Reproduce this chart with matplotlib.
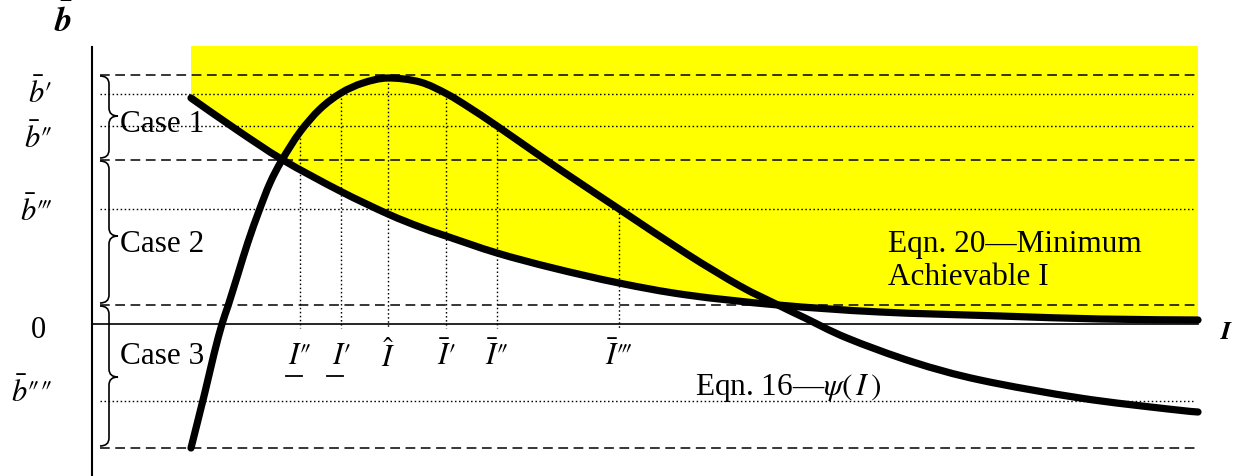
import matplotlib
matplotlib.use("Agg")
import matplotlib.pyplot as plt
from matplotlib.path import Path
from matplotlib.patches import PathPatch

plt.rcParams["font.family"] = ["Liberation Serif", "DejaVu Serif"]
plt.rcParams["mathtext.fontset"] = "stix"
plt.rcParams["lines.scale_dashes"] = False

# ---- data -------------------------------------------------------------
# Eqn. 16: psi(I), the hump-shaped curve
psi_I = [0.99, 1.13, 1.22, 1.30, 1.36, 1.46, 1.56, 1.67, 1.78, 1.90, 2.08,
         2.28, 2.49, 2.71, 2.96, 3.28, 3.55, 3.78, 4.05, 4.51, 4.88, 5.27,
         5.95, 6.48, 6.86, 7.13, 7.55, 8.21, 8.88, 9.88, 10.76, 11.06]
psi_b = [-1.24, -0.68, -0.30, 0.00, 0.18, 0.50, 0.82, 1.13, 1.41, 1.64, 1.92,
         2.15, 2.31, 2.41, 2.46, 2.42, 2.30, 2.16, 1.98, 1.66, 1.41, 1.15,
         0.70, 0.38, 0.19, 0.06, -0.14, -0.38, -0.56, -0.74, -0.85, -0.88]

# Eqn. 20: minimum achievable I, the decreasing curve
min_I = [0.99, 1.45, 1.91, 2.48, 2.96, 3.28, 3.54, 4.05, 4.61, 5.27, 5.95,
         6.86, 7.88, 9.08, 10.08, 11.06]
min_b = [2.26, 1.94, 1.64, 1.33, 1.10, 0.97, 0.88, 0.71, 0.56, 0.41, 0.29,
         0.19, 0.12, 0.08, 0.05, 0.04]

# case boundaries (dashed) and reference levels of b-bar (dotted)
case_bounds = [2.49, 1.64, 0.19, -1.24]
case_names = ["Case 1", "Case 2", "Case 3"]
b_levels = [2.30, 1.98, 1.15, -0.77]
b_labels = ["$\\bar{b}\u2032$", "$\\bar{b}\u2033$", "$\\bar{b}\u2034$",
            "$\\bar{b}\u2033\u2033$"]

# critical values of I and the b-bar level each one is read from
I_marks = [2.08, 2.49, 2.96, 3.54, 4.05, 5.27]
I_tops = [1.98, 2.30, 2.49, 2.30, 1.98, 1.15]
I_labels = ["$I\u2033$", "$I\u2032$", "$\\hat{I}$", "$\\bar{I}\u2032$",
            "$\\bar{I}\u2033$", "$\\bar{I}\u2034$"]
I_underlined = [True, True, False, False, False, False]

I_max = 11.06
shade_top = 2.78

# ---- figure -----------------------------------------------------------
fig = plt.figure(figsize=(12.35, 4.77), dpi=100)
ax = fig.add_axes([0, 0, 1, 1])
ax.set_xlim(-0.92, 11.43)
ax.set_ylim(-1.52, 3.25)
ax.axis("off")


def smooth_path(xs, ys):
    """Cubic Bezier path passing through every given point."""
    pts = list(zip(xs, ys))
    n = len(pts)
    verts = [pts[0]]
    codes = [Path.MOVETO]
    for i in range(n - 1):
        p0 = pts[max(i - 1, 0)]
        p1 = pts[i]
        p2 = pts[i + 1]
        p3 = pts[min(i + 2, n - 1)]
        c1 = (p1[0] + (p2[0] - p0[0]) / 6, p1[1] + (p2[1] - p0[1]) / 6)
        c2 = (p2[0] - (p3[0] - p1[0]) / 6, p2[1] - (p3[1] - p1[1]) / 6)
        verts += [c1, c2, p2]
        codes += [Path.CURVE4] * 3
    return verts, codes


# feasible region above Eqn. 20
v, c = smooth_path(min_I, min_b)
v_fill = v + [(min_I[-1], shade_top), (min_I[0], shade_top), v[0]]
c_fill = c + [Path.LINETO, Path.LINETO, Path.CLOSEPOLY]
ax.add_patch(PathPatch(Path(v_fill, c_fill), facecolor="#FFFF00",
                       edgecolor="none", zorder=1))

# axes
ax.plot([0, 0], [-1.52, shade_top - 0.01], color="black", lw=1.5, zorder=3)
ax.plot([0, I_max], [0, 0], color="black", lw=1.2, zorder=3)

line_left = 0.08
for y in case_bounds:
    ax.plot([line_left, I_max], [y, y], color="black", lw=1.1,
            dashes=(7, 4), zorder=2)
for y in b_levels:
    ax.plot([line_left, I_max - 0.05], [y, y], color="black", lw=1.0,
            dashes=(1.1, 1.8), zorder=2)
for x, top in zip(I_marks, I_tops):
    ax.plot([x, x], [top, -0.04], color="black", lw=1.0,
            dashes=(1.1, 1.8), zorder=2)

# curves
for xs, ys in ((psi_I, psi_b), (min_I, min_b)):
    v, c = smooth_path(xs, ys)
    ax.add_patch(PathPatch(Path(v, c), fill=False, edgecolor="black",
                           lw=5.2, capstyle="round", joinstyle="round",
                           zorder=4))


def brace(x0, tip_x, top, bottom, tip_y, r=0.08):
    xm = (x0 + tip_x) / 2
    verts = [
        (x0, top), (xm, top), (xm, top - r),
        (xm, tip_y + r),
        (xm, tip_y), (tip_x, tip_y),
        (xm, tip_y), (xm, tip_y - r),
        (xm, bottom + r),
        (xm, bottom), (x0, bottom),
    ]
    codes = [Path.MOVETO, Path.CURVE3, Path.CURVE3,
             Path.LINETO,
             Path.CURVE3, Path.CURVE3,
             Path.CURVE3, Path.CURVE3,
             Path.LINETO,
             Path.CURVE3, Path.CURVE3]
    ax.add_patch(PathPatch(Path(verts, codes), fill=False, lw=1.2,
                           edgecolor="black", zorder=3))


brace_tips = [2.08, 0.88, -0.53]
case_text_y = [1.93, 0.73, -0.39]
for i, name in enumerate(case_names):
    top, bottom = case_bounds[i] - 0.01, case_bounds[i + 1] + 0.02
    brace(0.08, 0.26, top, bottom, brace_tips[i])
    ax.text(0.28, case_text_y[i], name, fontsize=22.5, va="baseline",
            ha="left", zorder=5)

# y-axis labels
b_label_y = [2.31, 1.86, 1.13, -0.68]
for y, lab in zip(b_label_y, b_labels):
    ax.text(-0.40, y, lab, fontsize=22, ha="right", va="center")
ax.text(-0.54, -0.06, "0", fontsize=22, ha="center", va="center")
ax.text(-0.29, 3.03, r"$\bar{\mathbfit{b}}$", fontsize=25, ha="center",
        va="center")
ax.text(11.35, -0.08, r"$\mathbfit{I}$", fontsize=19, ha="center",
        va="center")

# critical I labels
for x, lab, ul in zip(I_marks, I_labels, I_underlined):
    ax.text(x, -0.32, lab, fontsize=22, ha="center", va="center")
    if ul:
        ax.plot([x - 0.14, x + 0.02], [-0.52, -0.52], color="black", lw=1.3)

# curve annotations
ax.text(7.96, 0.64, "Eqn. 20\u2014Minimum\nAchievable I", fontsize=22.5,
        ha="left", va="center", linespacing=1.2, zorder=5)
ax.text(6.03, -0.70, "Eqn. 16\u2014" + r"$\psi\left(\,I\,\right)$",
        fontsize=22.5, ha="left", va="baseline", zorder=5)

fig.savefig("out.png", dpi=100)
